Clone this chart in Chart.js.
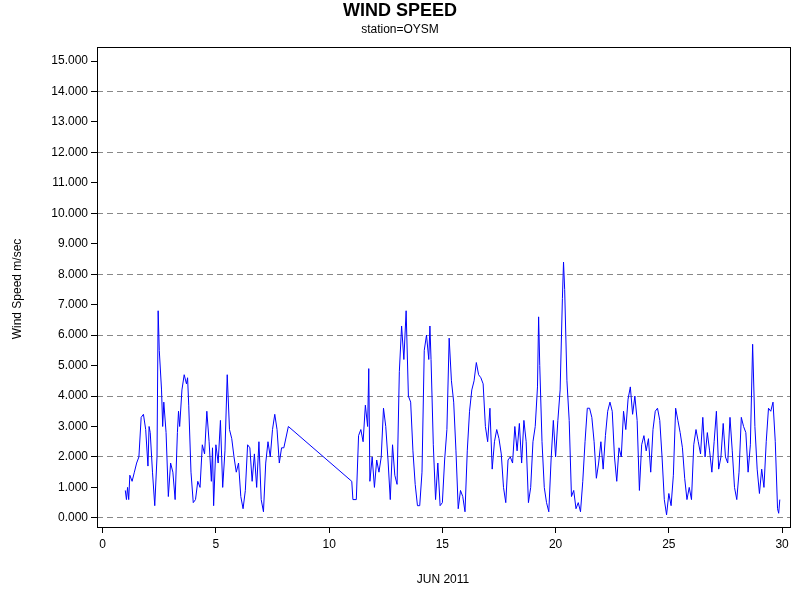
<!DOCTYPE html>
<html><head><meta charset="utf-8">
<script src="https://cdn.jsdelivr.net/npm/chart.js@4"></script>
<style>html,body{margin:0;padding:0;background:#fff}</style>
</head><body>
<canvas id="c" width="800" height="600"></canvas>
<script>
const xDays = [1.0,1.05,1.1,1.15,1.2,1.3,1.4,1.5,1.6,1.7,1.8,1.9,2.0,2.05,2.1,2.2,2.3,2.4,2.45,2.5,2.6,2.65,2.7,2.8,2.9,3.0,3.1,3.2,3.3,3.35,3.4,3.5,3.6,3.7,3.75,3.8,3.9,4.0,4.1,4.2,4.3,4.4,4.5,4.6,4.7,4.8,4.85,4.9,5.0,5.1,5.2,5.3,5.4,5.5,5.6,5.7,5.8,5.9,6.0,6.1,6.2,6.3,6.4,6.5,6.6,6.7,6.8,6.9,7.0,7.1,7.2,7.3,7.4,7.5,7.6,7.7,7.8,7.9,8.0,8.2,11.0,11.05,11.2,11.3,11.4,11.5,11.6,11.7,11.75,11.8,11.9,12.0,12.1,12.2,12.3,12.4,12.5,12.6,12.7,12.8,12.9,13.0,13.1,13.2,13.3,13.4,13.5,13.6,13.7,13.8,13.9,14.0,14.1,14.2,14.3,14.4,14.45,14.5,14.6,14.7,14.8,14.9,15.0,15.1,15.2,15.3,15.4,15.5,15.6,15.7,15.8,15.9,16.0,16.1,16.2,16.3,16.4,16.5,16.6,16.7,16.8,16.9,17.0,17.1,17.2,17.3,17.4,17.5,17.6,17.7,17.8,17.9,18.0,18.1,18.2,18.3,18.4,18.5,18.6,18.7,18.8,18.9,19.0,19.1,19.2,19.25,19.3,19.4,19.5,19.6,19.7,19.8,19.9,20.0,20.1,20.2,20.3,20.35,20.4,20.5,20.6,20.7,20.8,20.9,21.0,21.1,21.2,21.3,21.4,21.5,21.6,21.7,21.8,21.9,22.0,22.1,22.2,22.3,22.4,22.5,22.6,22.7,22.8,22.9,23.0,23.1,23.2,23.3,23.4,23.5,23.6,23.7,23.8,23.9,24.0,24.1,24.2,24.3,24.4,24.5,24.6,24.7,24.8,24.9,25.0,25.1,25.2,25.3,25.4,25.5,25.6,25.7,25.8,25.9,26.0,26.1,26.2,26.3,26.4,26.5,26.6,26.7,26.8,26.9,27.0,27.1,27.2,27.3,27.4,27.5,27.6,27.7,27.8,27.9,28.0,28.1,28.2,28.3,28.4,28.5,28.6,28.7,28.8,28.9,29.0,29.1,29.2,29.3,29.4,29.5,29.6,29.7,29.8,29.85,29.9];
const windSpeed = [0.9,0.6,1.0,0.6,1.4,1.2,1.5,1.8,2.0,3.3,3.4,2.9,1.7,3.0,2.8,1.5,0.4,2.0,6.8,5.5,4.2,3.0,3.8,2.8,0.7,1.8,1.5,0.6,2.8,3.5,3.0,4.2,4.7,4.4,4.6,3.7,1.5,0.5,0.6,1.2,1.0,2.4,2.1,3.5,2.5,1.2,2.3,0.4,2.4,1.8,3.2,1.0,2.2,4.7,2.9,2.6,2.0,1.5,1.8,0.7,0.3,0.9,2.4,2.3,1.2,2.1,1.0,2.5,0.6,0.2,1.8,2.5,2.0,2.9,3.4,2.9,1.8,2.3,2.3,3.0,1.2,0.6,0.6,2.7,2.9,2.5,3.7,3.0,4.9,1.2,2.0,1.0,1.9,1.5,2.0,3.6,3.0,1.9,0.6,2.4,1.4,1.1,4.8,6.3,5.2,6.8,4.0,3.8,2.2,1.1,0.4,0.4,1.5,5.5,6.0,5.2,6.3,5.2,2.4,0.6,1.8,0.4,0.5,1.9,2.9,5.9,4.5,3.8,2.2,0.3,0.9,0.7,0.2,2.2,3.5,4.2,4.5,5.1,4.7,4.6,4.4,3.0,2.5,3.6,1.6,2.5,2.9,2.6,2.1,1.0,0.5,1.9,2.0,1.8,3.0,2.2,3.1,1.8,3.2,2.5,0.5,1.0,2.5,3.0,4.3,6.6,5.0,2.5,1.0,0.5,0.2,1.9,3.2,2.0,3.2,4.2,7.2,8.4,7.5,4.5,3.2,0.7,0.9,0.3,0.5,0.2,1.2,2.5,3.6,3.6,3.3,2.5,1.3,1.8,2.5,1.6,2.7,3.5,3.8,3.5,2.0,1.2,2.3,2.0,3.5,2.9,3.9,4.3,3.4,4.0,3.2,0.9,2.4,2.7,2.2,2.6,1.5,2.9,3.5,3.6,3.2,2.0,0.6,0.1,0.8,0.4,1.4,3.6,3.2,2.8,2.3,1.3,0.6,1.0,0.6,2.4,2.9,2.5,2.1,3.3,2.0,2.8,2.2,1.5,2.5,3.5,1.6,2.0,3.1,2.0,1.8,3.3,2.2,1.0,0.6,1.5,3.3,3.0,2.8,1.5,2.4,5.7,3.0,1.6,0.8,1.6,1.0,2.5,3.6,3.5,3.8,2.5,0.3,0.15,0.6];
const xTicks = [0,5,10,15,20,25,30];
const yTicks = [0,1,2,3,4,5,6,7,8,9,10,11,12,13,14,15];

const textPlugin = {
  id:'txt',
  afterDraw(c){
    const ctx=c.ctx, a=c.chartArea;
    ctx.save();
    ctx.strokeStyle='#000';ctx.lineWidth=1;
    ctx.strokeRect(Math.round(a.left)+0.5,Math.round(a.top)+0.5,Math.round(a.right-a.left),Math.round(a.bottom-a.top));
    ctx.fillStyle='#000';ctx.textAlign='center';ctx.textBaseline='middle';
    ctx.font='bold 18px "Liberation Sans", Arial, sans-serif';
    ctx.fillText('WIND SPEED',400,11);
    ctx.font='12px "Liberation Sans", Arial, sans-serif';
    ctx.fillText('station=OYSM',400,30);
    ctx.fillText('JUN 2011',443,580);
    ctx.translate(18,289);ctx.rotate(-Math.PI/2);
    ctx.fillText('Wind Speed m/sec',0,0);
    ctx.restore();
  }
};

new Chart(document.getElementById('c'),{
  type:'line',
  data:{datasets:[{data:xDays.map((x,i)=>({x:x,y:windSpeed[i]})),borderColor:'#0000ff',borderWidth:1,pointRadius:0,tension:0,fill:false}]},
  options:{
    responsive:false,animation:false,
    layout:{padding:{left:0,right:10,top:47,bottom:0}},
    plugins:{legend:{display:false},tooltip:{enabled:false}},
    scales:{
      x:{type:'linear',min:-0.25,max:30.35,
        afterBuildTicks(s){s.ticks=xTicks.map(v=>({value:v}));},
        afterFit(s){s.height=73;},
        grid:{display:true,drawOnChartArea:false,tickLength:6,tickColor:'#000'},
        border:{display:false},
        ticks:{color:'#000',font:{size:12,family:'"Liberation Sans", Arial, sans-serif'},padding:4,maxRotation:0}
      },
      y:{type:'linear',min:-0.3,max:15.46,
        afterBuildTicks(s){s.ticks=yTicks.map(v=>({value:v}));},
        afterFit(s){s.width=97;},
        grid:{color:ctx=>(ctx.tick&&ctx.tick.value%2===0)?'#888':'rgba(0,0,0,0)',tickColor:'#000',tickLength:6,lineWidth:1},
        border:{display:false,dash:[6,4]},
        ticks:{color:'#000',font:{size:12,family:'"Liberation Sans", Arial, sans-serif'},padding:3,callback:v=>v.toFixed(3)}
      }
    }
  },
  plugins:[textPlugin]
});
</script>
</body></html>
